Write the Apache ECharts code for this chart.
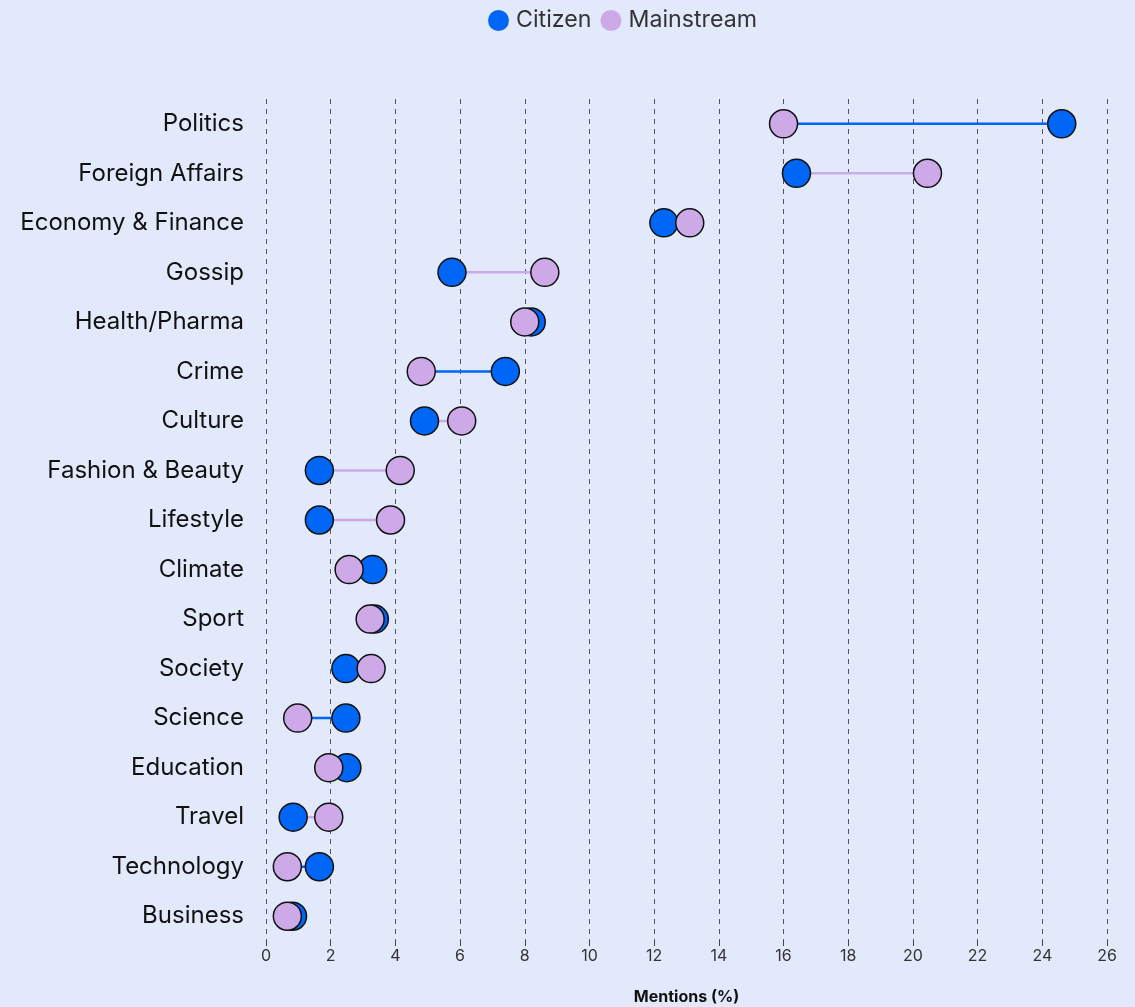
<!DOCTYPE html>
<html>
<head>
<meta charset="utf-8">
<script src="https://cdn.jsdelivr.net/npm/echarts@6/dist/echarts.min.js"></script>
<style>
  html, body { margin: 0; padding: 0; background: #e1e9fb; }
  #chart { width: 1135px; height: 1007px; }
</style>
</head>
<body>
<div id="chart"></div>
<script>
// topics, top to bottom
const categories = [
  'Politics', 'Foreign Affairs', 'Economy & Finance', 'Gossip', 'Health/Pharma',
  'Crime', 'Culture', 'Fashion & Beauty', 'Lifestyle', 'Climate', 'Sport',
  'Society', 'Science', 'Education', 'Travel', 'Technology', 'Business'
]
// share of mentions (%)
const citizen = [24.6, 16.4, 12.3, 5.75, 8.2, 7.4, 4.9, 1.65, 1.65, 3.3, 3.35, 2.47, 2.47, 2.5, 0.84, 1.65, 0.82]
const mainstream = [16.0, 20.45, 13.1, 8.62, 8.0, 4.8, 6.05, 4.15, 3.85, 2.57, 3.22, 3.25, 0.98, 1.94, 1.94, 0.66, 0.66]
const xTicks = [0, 26, 2] // min, max, step

const BLUE = '#0066f5'
const LILAC = '#cda9e8'

const chart = echarts.init(document.getElementById('chart'))

chart.setOption({
  backgroundColor: '#e1e9fb',
  textStyle: { fontFamily: 'Inter' },
  legend: {
    top: 4, left: 483,
    icon: 'circle', itemWidth: 21, itemHeight: 21, itemGap: 9,
    itemStyle: { borderWidth: 0 },
    textStyle: { fontSize: 23.2, color: '#333', padding: [0, 0, 0, 2] },
    data: ['Citizen', 'Mainstream']
  },
  grid: { left: 266, right: 28, top: 99, bottom: 66, outerBoundsMode: 'none' },
  xAxis: {
    type: 'value',
    min: xTicks[0], max: xTicks[1], interval: xTicks[2],
    axisLine: { show: false },
    axisTick: { show: true, length: 5, lineStyle: { color: '#444' } },
    axisLabel: { fontSize: 16, color: '#333', margin: 7 },
    splitLine: { show: true, lineStyle: { color: '#555', type: [5, 5], width: 1 } },
    name: 'Mentions (%)', nameLocation: 'middle', nameGap: 48,
    nameTextStyle: { fontSize: 16, fontWeight: 'bold', color: '#111' }
  },
  yAxis: {
    type: 'category', inverse: true, data: categories,
    axisLine: { show: false }, axisTick: { show: false },
    axisLabel: { fontSize: 24, color: '#111', margin: 22 }
  },
  series: [
    {
      type: 'custom',
      silent: true,
      z: 1,
      data: categories.map((c, i) => [citizen[i], mainstream[i], i]),
      renderItem: (params, api) => {
        const i = api.value(2)
        const a = api.coord([api.value(0), i])
        const b = api.coord([api.value(1), i])
        const col = api.value(0) >= api.value(1) ? BLUE : LILAC
        return {
          type: 'line',
          shape: { x1: a[0], y1: a[1], x2: b[0], y2: b[1] },
          style: { stroke: col, lineWidth: 2.5 }
        }
      }
    },
    {
      name: 'Citizen', type: 'scatter', z: 2,
      symbolSize: 28,
      itemStyle: { color: BLUE, borderColor: '#111', borderWidth: 1.5, opacity: 1 },
      data: citizen.map((v, i) => [v, categories[i]])
    },
    {
      name: 'Mainstream', type: 'scatter', z: 3,
      symbolSize: 28,
      itemStyle: { color: LILAC, borderColor: '#111', borderWidth: 1.5, opacity: 1 },
      data: mainstream.map((v, i) => [v, categories[i]])
    }
  ]
})
window.addEventListener('resize', () => chart.resize())
</script>
</body>
</html>
